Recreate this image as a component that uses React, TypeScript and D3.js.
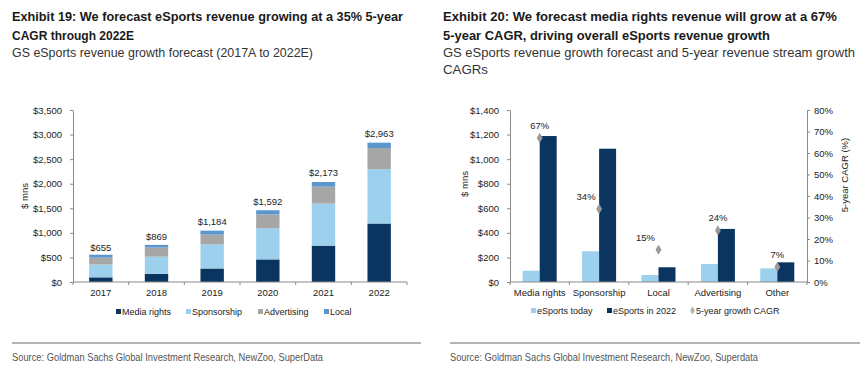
import { useEffect, useRef } from 'react';
import * as d3 from 'd3';

// Exhibit 19 - stacked revenue by stream
const years = ['2017', '2018', '2019', '2020', '2021', '2022'];
const mediaRights = [95, 165, 275, 460, 740, 1190];
const sponsorship = [260, 350, 490, 635, 855, 1105];
const advertising = [140, 185, 200, 280, 345, 430];
const local = [60, 55, 80, 85, 95, 110];
const totalLabels = [655, 869, 1184, 1592, 2173, 2963];
const leftTicks = [0, 500, 1000, 1500, 2000, 2500, 3000, 3500];

// Exhibit 20 - today vs 2022 with CAGR
const streams = ['Media rights', 'Sponsorship', 'Local', 'Advertising', 'Other'];
const today = [92, 250, 57, 147, 111];
const in2022 = [1188, 1085, 120, 432, 160];
const cagr = [67, 34, 15, 24, 7];
const rightTicks = [0, 200, 400, 600, 800, 1000, 1200, 1400];
const pctTicks = [0, 10, 20, 30, 40, 50, 60, 70, 80];

const NAVY = '#0a3560';
const LIGHT = '#9dd0ec';
const GREY = '#a6a6a6';
const MID = '#5b97cc';
const AXIS = '#8a8a8a';
const FONT = '"Liberation Sans", Arial, sans-serif';

export default function App() {
  const svgRef = useRef<SVGSVGElement>(null);

  useEffect(() => {
    if (!svgRef.current) return;
    const svg = d3.select(svgRef.current);
    svg.selectAll('*').remove();

    // condensed look: squeeze Liberation Sans to the measured widths
    const squeezed = (x: number, y: number, t: string, w: number, size: number, bold: boolean, fill: string) =>
      svg.append('text').attr('x', x).attr('y', y)
        .attr('font-family', FONT).attr('font-weight', bold ? 'bold' : 'normal')
        .attr('font-size', size).attr('fill', fill)
        .attr('textLength', w).attr('lengthAdjust', 'spacingAndGlyphs').text(t);

    // ---------- headers ----------
    squeezed(12, 21, 'Exhibit 19: We forecast eSports revenue growing at a 35% 5-year', 391, 13.5, true, '#1a1a1a');
    squeezed(12, 39.5, 'CAGR through 2022E', 122, 13.5, true, '#1a1a1a');
    squeezed(12, 57, 'GS eSports revenue growth forecast (2017A to 2022E)', 301, 13.5, false, '#333');

    squeezed(443, 21, 'Exhibit 20: We forecast media rights revenue will grow at a 67%', 394, 13.5, true, '#1a1a1a');
    squeezed(443, 39.5, '5-year CAGR, driving overall eSports revenue growth', 327, 13.5, true, '#1a1a1a');
    squeezed(443, 57, 'GS eSports revenue growth forecast and 5-year revenue stream growth', 412, 13.5, false, '#333');
    squeezed(443, 74, 'CAGRs', 45, 13.5, false, '#333');

    // ---------- footers ----------
    const footer = (x1: number, x2: number, txt: string, w: number) => {
      svg.append('line').attr('x1', x1).attr('x2', x2).attr('y1', 343).attr('y2', 343)
        .attr('stroke', '#b5b5b5').attr('stroke-width', 2);
      squeezed(x1, 361, txt, w, 11.5, false, '#555');
    };
    footer(12, 421, 'Source: Goldman Sachs Global Investment Research, NewZoo, SuperData', 311);
    footer(450, 860, 'Source: Goldman Sachs Global Investment Research, NewZoo, Superdata', 308);

    const styleAxis = (g: d3.Selection<SVGGElement, unknown, null, undefined>) => {
      g.selectAll('path').attr('stroke', AXIS);
      g.selectAll('line').attr('stroke', AXIS);
      g.selectAll('text').attr('font-family', FONT).attr('font-size', 9.5).attr('fill', '#222');
    };

    // ---------- left chart ----------
    const lx = d3.scaleBand<string>().domain(years).range([73, 407]).paddingInner(0.58).paddingOuter(0.29);
    const ly = d3.scaleLinear().domain([0, 3500]).range([282, 110]);
    const money = (d: d3.NumberValue) => '$' + d3.format(',')(+d);

    const stackRows = years.map((y, i) => ({
      year: y, media: mediaRights[i], spons: sponsorship[i], adv: advertising[i], local: local[i]
    }));
    const keys = ['media', 'spons', 'adv', 'local'];
    const colors: Record<string, string> = { media: NAVY, spons: LIGHT, adv: GREY, local: MID };
    const series = d3.stack<any>().keys(keys)(stackRows);

    const lg = svg.append('g');
    series.forEach((s) => {
      lg.selectAll(null).data(s).enter().append('rect')
        .attr('x', (d: any) => lx(d.data.year)!)
        .attr('width', lx.bandwidth())
        .attr('y', (d) => ly(d[1]))
        .attr('height', (d) => ly(d[0]) - ly(d[1]))
        .attr('fill', colors[s.key]);
    });
    lg.selectAll(null).data(stackRows).enter().append('text')
      .attr('x', (d) => lx(d.year)! + lx.bandwidth() / 2)
      .attr('y', (d, i) => ly(totalLabels[i]) + 1)
      .attr('text-anchor', 'middle').attr('font-family', FONT).attr('font-size', 9.5)
      .attr('fill', '#222').text((d, i) => money(totalLabels[i]));

    const lyAxis = svg.append('g').attr('transform', 'translate(73,0)')
      .call(d3.axisLeft(ly).tickValues(leftTicks).tickFormat(money).tickSize(3).tickSizeOuter(0).tickPadding(8));
    styleAxis(lyAxis);
    const lxStep = lx.step();
    const lxAxis = svg.append('g').attr('transform', 'translate(0,282)');
    lxAxis.append('line').attr('x1', 73).attr('x2', 407).attr('stroke', AXIS);
    lxAxis.selectAll(null).data(d3.range(years.length + 1)).enter().append('line')
      .attr('x1', (i) => 73 + i * lxStep).attr('x2', (i) => 73 + i * lxStep)
      .attr('y1', 0).attr('y2', 3).attr('stroke', AXIS);
    lxAxis.selectAll(null).data(years).enter().append('text')
      .attr('x', (d) => lx(d)! + lx.bandwidth() / 2).attr('y', 14)
      .attr('text-anchor', 'middle').attr('font-family', FONT).attr('font-size', 9.5)
      .attr('fill', '#222').text((d) => d);

    svg.append('text').attr('transform', 'translate(28,196) rotate(-90)')
      .attr('text-anchor', 'middle').attr('font-family', FONT).attr('font-size', 9.5)
      .attr('fill', '#222').text('$ mns');

    // left legend
    const legL = [
      { label: 'Media rights', color: NAVY, x: 116 },
      { label: 'Sponsorship', color: LIGHT, x: 186 },
      { label: 'Advertising', color: GREY, x: 258 },
      { label: 'Local', color: MID, x: 324 }
    ];
    legL.forEach((l) => {
      svg.append('rect').attr('x', l.x).attr('y', 309).attr('width', 5).attr('height', 5).attr('fill', l.color);
      svg.append('text').attr('x', l.x + 6).attr('y', 315).attr('font-family', FONT)
        .attr('font-size', 9).attr('fill', '#222').text(l.label);
    });

    // ---------- right chart ----------
    const rx = d3.scaleBand<string>().domain(streams).range([510, 807]);
    const pairW = 34;
    const inner = d3.scaleBand<string>().domain(['today', '2022']).range([0, pairW]);
    const ry = d3.scaleLinear().domain([0, 1400]).range([282, 110]);
    const rp = d3.scaleLinear().domain([0, 80]).range([282, 110]);

    const rows = streams.map((s, i) => ({ s, today: today[i], y2022: in2022[i], cagr: cagr[i] }));
    const rg = svg.append('g');
    const bx = (s: string) => rx(s)! + rx.bandwidth() / 2 - pairW / 2;
    rg.selectAll(null).data(rows).enter().append('rect')
      .attr('x', (d) => bx(d.s) + inner('today')!).attr('width', inner.bandwidth())
      .attr('y', (d) => ry(d.today)).attr('height', (d) => 282 - ry(d.today)).attr('fill', LIGHT);
    rg.selectAll(null).data(rows).enter().append('rect')
      .attr('x', (d) => bx(d.s) + inner('2022')!).attr('width', inner.bandwidth())
      .attr('y', (d) => ry(d.y2022)).attr('height', (d) => 282 - ry(d.y2022)).attr('fill', NAVY);

    const diamond = d3.symbol().type(d3.symbolDiamond).size(30);
    rg.selectAll(null).data(rows).enter().append('path')
      .attr('d', diamond)
      .attr('transform', (d) => `translate(${rx(d.s)! + rx.bandwidth() / 2},${rp(d.cagr)})`)
      .attr('fill', '#9a9a9a');
    const labelDx = [0, -13, -13, 0, 0];
    rg.selectAll(null).data(rows).enter().append('text')
      .attr('x', (d, i) => rx(d.s)! + rx.bandwidth() / 2 + labelDx[i])
      .attr('y', (d) => rp(d.cagr) - 9)
      .attr('text-anchor', 'middle').attr('font-family', FONT).attr('font-size', 9.5)
      .attr('fill', '#222').text((d) => d.cagr + '%');

    const ryAxis = svg.append('g').attr('transform', 'translate(510,0)')
      .call(d3.axisLeft(ry).tickValues(rightTicks).tickFormat(money).tickSize(3).tickSizeOuter(0).tickPadding(8));
    styleAxis(ryAxis);
    const rpAxis = svg.append('g').attr('transform', 'translate(807,0)')
      .call(d3.axisRight(rp).tickValues(pctTicks).tickFormat((d) => d + '%').tickSize(3).tickSizeOuter(0).tickPadding(4));
    styleAxis(rpAxis);

    const rxAxis = svg.append('g').attr('transform', 'translate(0,282)');
    rxAxis.append('line').attr('x1', 510).attr('x2', 807).attr('stroke', AXIS);
    rxAxis.selectAll(null).data(d3.range(streams.length + 1)).enter().append('line')
      .attr('x1', (i) => 510 + i * rx.step()).attr('x2', (i) => 510 + i * rx.step())
      .attr('y1', 0).attr('y2', 3).attr('stroke', AXIS);
    rxAxis.selectAll(null).data(streams).enter().append('text')
      .attr('x', (d) => rx(d)! + rx.bandwidth() / 2).attr('y', 14)
      .attr('text-anchor', 'middle').attr('font-family', FONT).attr('font-size', 9.5)
      .attr('fill', '#222').text((d) => d);

    svg.append('text').attr('transform', 'translate(468,184) rotate(-90)')
      .attr('text-anchor', 'middle').attr('font-family', FONT).attr('font-size', 9.5)
      .attr('fill', '#222').text('$ mns');
    svg.append('text').attr('transform', 'translate(848,175) rotate(-90)')
      .attr('text-anchor', 'middle').attr('font-family', FONT).attr('font-size', 9.5)
      .attr('fill', '#222').text('5-year CAGR (%)');

    // right legend
    const legR = [
      { label: 'eSports today', color: LIGHT, x: 531, shape: 'rect' },
      { label: 'eSports in 2022', color: NAVY, x: 607, shape: 'rect' },
      { label: '5-year growth CAGR', color: '#b0b0b0', x: 690, shape: 'diamond' }
    ];
    legR.forEach((l) => {
      if (l.shape === 'rect') {
        svg.append('rect').attr('x', l.x).attr('y', 308).attr('width', 5).attr('height', 5).attr('fill', l.color);
      } else {
        svg.append('path').attr('d', d3.symbol().type(d3.symbolDiamond).size(18)())
          .attr('transform', `translate(${l.x + 2.5},310.5)`).attr('fill', l.color);
      }
      svg.append('text').attr('x', l.x + 6).attr('y', 314).attr('font-family', FONT)
        .attr('font-size', 9).attr('fill', '#222').text(l.label);
    });
  }, []);

  return (
    <svg
      ref={svgRef}
      width={867}
      height={374}
      style={{ position: 'absolute', left: 0, top: 0, background: '#fff' }}
    />
  );
}
